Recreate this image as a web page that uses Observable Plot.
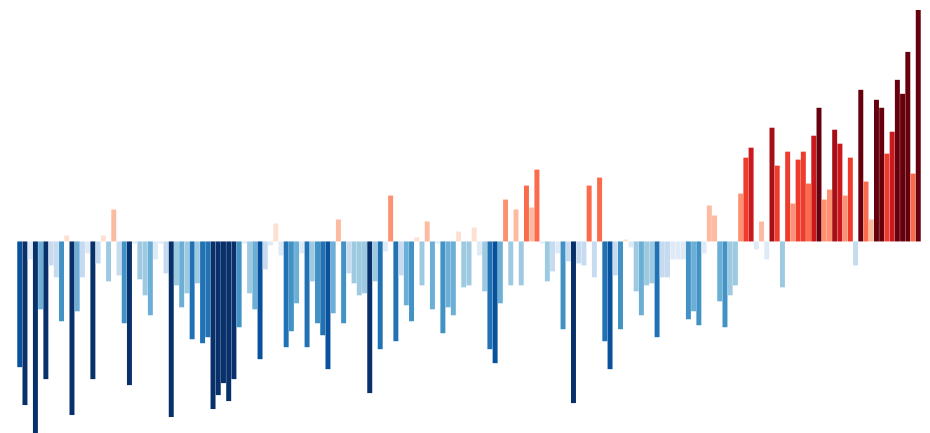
<!DOCTYPE html>
<html>
<head>
<meta charset="utf-8">
<script src="https://cdn.jsdelivr.net/npm/d3@7"></script>
<script src="https://cdn.jsdelivr.net/npm/@observablehq/plot@0.6"></script>
<style>
  html, body { margin: 0; padding: 0; background: #fff; }
  #chart svg { display: block; }
</style>
</head>
<body>
<div id="chart"></div>
<script>
// Annual temperature anomalies (°C), 1850–2022
const firstYear = 1850;
const anomalies = [
  -0.63, -0.82, -0.09, -0.96, -0.34, -0.69, -0.12, -0.18, -0.40, 0.03,
  -0.87, -0.35, -0.18, -0.06, -0.69, -0.11, 0.03, -0.20, 0.16, -0.17,
  -0.41, -0.72, -0.01, -0.19, -0.27, -0.37, -0.09, -0.01, -0.16, -0.88,
  -0.22, -0.33, -0.26, -0.49, -0.21, -0.51, -0.48, -0.84, -0.77, -0.71,
  -0.80, -0.69, -0.43, -0.01, -0.26, -0.34, -0.59, -0.14, -0.02, 0.09,
  -0.07, -0.53, -0.45, -0.31, -0.06, -0.53, -0.20, -0.41, -0.47, -0.64,
  -0.36, 0.11, -0.41, -0.16, -0.21, -0.27, -0.26, -0.76, -0.20, -0.54,
  -0.05, 0.23, -0.50, -0.17, -0.32, -0.40, 0.02, -0.22, 0.10, -0.34,
  -0.01, -0.46, -0.33, -0.37, 0.05, -0.23, -0.22, 0.07, -0.07, -0.25,
  -0.54, -0.61, -0.31, 0.21, -0.22, 0.16, -0.22, 0.28, 0.17, 0.36,
  -0.01, -0.20, -0.15, -0.06, -0.44, -0.10, -0.81, -0.11, -0.12, 0.28,
  -0.18, 0.32, -0.50, -0.64, -0.17, -0.44, 0.01, -0.03, -0.25, -0.37,
  -0.22, -0.21, -0.48, -0.18, -0.18, -0.09, -0.09, -0.09, -0.39, -0.35,
  -0.42, -0.06, 0.18, 0.13, -0.30, -0.43, -0.27, -0.22, 0.24, 0.42,
  0.47, -0.04, 0.10, -0.09, 0.57, 0.38, -0.23, 0.45, 0.19, 0.41,
  0.45, 0.29, 0.53, 0.67, 0.21, 0.26, 0.56, 0.49, 0.23, 0.42,
  -0.12, 0.76, 0.30, 0.11, 0.71, 0.67, 0.44, 0.55, 0.81, 0.74,
  0.95, 0.34, 1.16
];
const years = anomalies.map((_, i) => firstYear + i);

// Stripe colour classes (blue → red)
const stripeColors = [
  "#08306b", "#08519c", "#2171b5", "#4292c6", "#6baed6", "#9ecae1", "#c6dbef", "#deebf7",
  "#fee0d2", "#fcbba1", "#fc9272", "#fb6a4a", "#ef3b2c", "#cb181d", "#a50f15", "#67000d"
];
const classStep = 0.0925;
const thresholds = d3.range(-7, 8).map(k => +(k * classStep).toFixed(4));

const data = years.map((year, i) => ({year, value: anomalies[i]}));

const chart = Plot.plot({
  width: 930,
  height: 433,
  marginLeft: 17,
  marginRight: 9,
  marginTop: 10,
  marginBottom: 0,
  x: {type: "band", domain: years, padding: 0.05, axis: null},
  y: {domain: [-0.96, 1.16], axis: null},
  color: {type: "threshold", domain: thresholds, range: stripeColors},
  marks: [
    Plot.barY(data, {x: "year", y: "value", fill: "value"})
  ]
});
document.getElementById("chart").append(chart);
</script>
</body>
</html>
